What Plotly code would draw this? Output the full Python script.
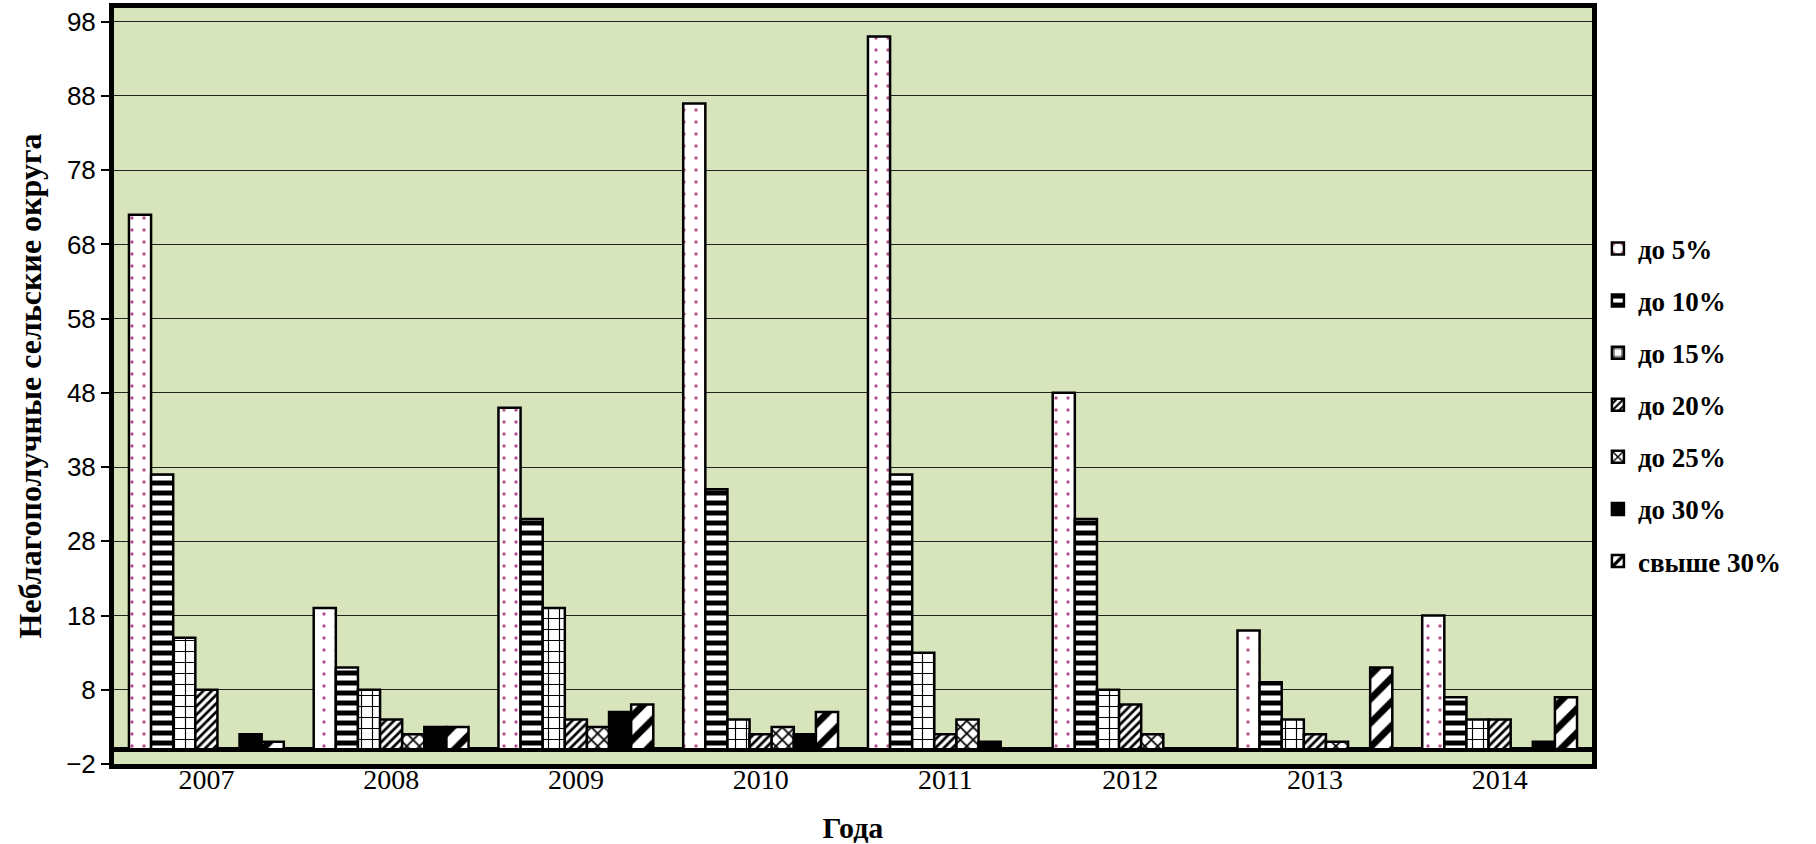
import plotly.graph_objects as go

years = ["2007", "2008", "2009", "2010", "2011", "2012", "2013", "2014"]
series_names = ["до 5%", "до 10%", "до 15%", "до 20%", "до 25%", "до 30%", "свыше 30%"]

do5 = [72, 19, 46, 87, 96, 48, 16, 18]
do10 = [37, 11, 31, 35, 37, 31, 9, 7]
do15 = [15, 8, 19, 4, 13, 8, 4, 4]
do20 = [8, 4, 4, 2, 2, 6, 2, 4]
do25 = [0, 2, 3, 3, 4, 2, 1, 0]
do30 = [2, 3, 5, 2, 1, 0, 0, 1]
over30 = [1, 3, 6, 5, 0, 0, 11, 7]

values = [do5, do10, do15, do20, do25, do30, over30]

styles = [
    dict(color="white", pattern=dict(shape=".", fgcolor="#b8508c", bgcolor="white", size=12, solidity=0.06, fillmode="replace")),
    dict(color="white", pattern=dict(shape="-", fgcolor="black", bgcolor="white", size=10, solidity=0.5, fillmode="replace")),
    dict(color="white", pattern=dict(shape="+", fgcolor="black", bgcolor="white", size=11, solidity=0.2, fillmode="replace")),
    dict(color="white", pattern=dict(shape="/", fgcolor="black", bgcolor="white", size=6, solidity=0.45, fillmode="replace")),
    dict(color="white", pattern=dict(shape="x", fgcolor="black", bgcolor="white", size=9, solidity=0.35, fillmode="replace")),
    dict(color="black"),
    dict(color="white", pattern=dict(shape="/", fgcolor="black", bgcolor="white", size=17, solidity=0.4, fillmode="replace")),
]

fig = go.Figure()
for i, (name, vals, st) in enumerate(zip(series_names, values, styles)):
    marker = dict(line=dict(color="black", width=2.5), **st)
    fig.add_trace(go.Bar(
        x=years, y=vals, name=name, marker=marker,
        legendgroup=f"g{i}",
    ))

fig.update_layout(
    width=1816, height=844,
    barmode="group", bargap=0.162, bargroupgap=0,
    paper_bgcolor="white", plot_bgcolor="#d8e4bc",
    margin=dict(l=114, r=224, t=8, b=80, autoexpand=False),
    showlegend=True,
    legend=dict(
        x=1.004, xanchor="left", y=0.475, yanchor="middle",
        font=dict(family="Liberation Serif", size=27, color="black", weight="bold"),
        tracegroupgap=14, itemwidth=30,
        bgcolor="rgba(0,0,0,0)",
    ),
    font=dict(family="Liberation Serif", color="black"),
)

fig.update_xaxes(
    type="category", automargin=False,
    showline=True, linecolor="black", linewidth=5, mirror=True,
    showgrid=False, ticks="",
    ticklabelstandoff=-14,
    tickfont=dict(family="Liberation Serif", size=28, color="black"),
    title=dict(text="Года", font=dict(family="Liberation Serif", size=30, color="black", weight="bold"), standoff=25),
)

fig.update_yaxes(
    automargin=False,
    range=[-2, 99.85], tick0=-2, dtick=10,
    showline=True, linecolor="black", linewidth=5, mirror=True,
    showgrid=True, gridcolor="#222222", gridwidth=1,
    zeroline=True, zerolinecolor="black", zerolinewidth=5,
    ticks="outside", ticklen=8, tickcolor="black", tickwidth=2,
    tickfont=dict(family="Liberation Sans", size=26, color="black"),
    title=dict(text="Неблагополучные сельские округа", font=dict(family="Liberation Serif", size=32, color="black", weight="bold"), standoff=16),
)

fig.write_html("out.html", config={"displayModeBar": False},
               post_script="document.body.style.margin='0px';")
